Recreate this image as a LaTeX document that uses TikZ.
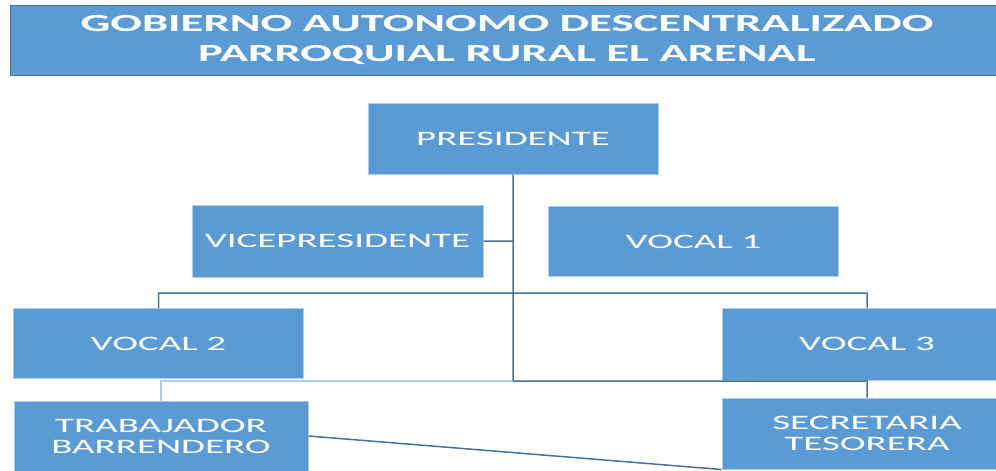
\documentclass[tikz,border=0pt]{standalone}
\usepackage{fontspec}
\newfontfamily\boxfont[FakeStretch=1.9]{Carlito}
\definecolor{boxblue}{RGB}{91,155,213}
\definecolor{boxedge}{RGB}{175,204,234}
\definecolor{linkblue}{RGB}{72,114,158}
\definecolor{linklight}{RGB}{178,206,234}
\tikzset{
  box/.style={rectangle,fill=boxblue,draw=boxedge,line width=1pt,
    minimum width=290pt,minimum height=70pt,inner sep=0pt,text=white,
    align=center,font=\boxfont\fontsize{20.5}{21}\selectfont},
  link/.style={draw=linkblue,line width=1.5pt},
  softlink/.style={draw=linklight,line width=1.5pt}
}
\begin{document}
\begin{tikzpicture}[x=1pt,y=-1pt]
  \useasboundingbox (0,0) rectangle (996,471);
  \clip (0,0) rectangle (996,471);
  \node (gad) [box,draw=linkblue,minimum width=994pt,font=\boxfont\bfseries\fontsize{24.6}{30}\selectfont] at (507,40)
    {GOBIERNO AUTONOMO DESCENTRALIZADO\\PARROQUIAL RURAL EL ARENAL};
  \node (pres) [box,minimum height=71pt] at (513,138.5) {PRESIDENTE};
  \node (vice) [box,minimum width=291pt,minimum height=72pt] at (337.5,241) {VICEPRESIDENTE};
  \node (voc1) [box] at (693.5,241.5) {VOCAL 1};
  \node (voc2) [box] at (158.5,343.5) {VOCAL 2};
  \node (voc3) [box,minimum height=72pt] at (867,344) {VOCAL 3};
  \node (trab) [box,minimum width=294pt] at (161,436) {TRABAJADOR\\BARRENDERO};
  \node (secr) [box,minimum height=71pt] at (867,433.5) {SECRETARIA\\TESORERA};
  \coordinate (top) at (513,293);
  \coordinate (low) at (513,381);
  % lines between the boxes
  \path[link]
    (pres.south) -- (low)
    (vice.east) -- (vice.east -| top)
    (voc2.north) |- (top) -| (voc3.north)
    (low) -| (secr.north)
    (trab.east) -- (secr.south west);
  \path[softlink] (trab.north) |- ([xshift=-1pt]low);
\end{tikzpicture}
\end{document}
